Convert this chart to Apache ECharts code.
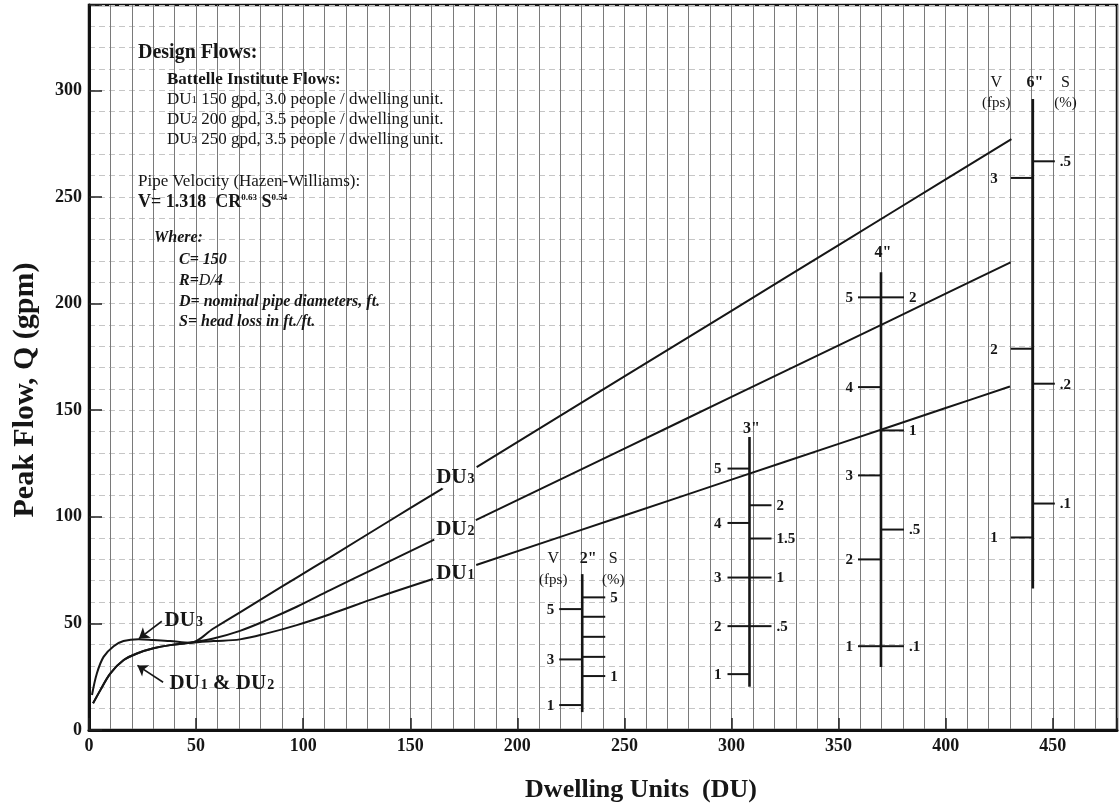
<!DOCTYPE html>
<html>
<head>
<meta charset="utf-8">
<script src="https://cdn.jsdelivr.net/npm/echarts@6/dist/echarts.min.js"></script>
<style>
html,body{margin:0;padding:0;background:#fff;}
#c{width:1120px;height:806px;}
</style>
</head>
<body>
<div id="c"></div>
<script>
// ---------- DATA ----------
const xTickLabels = [0, 50, 100, 150, 200, 250, 300, 350, 400, 450];
const yTickLabels = [0, 50, 100, 150, 200, 250, 300];

// Peak flow curves (DU, gpm); null = gap where the curve label sits
const du1 = [[1.9,12.5],[5.3,18.7],[10,26.6],[16.2,32.8],[22.4,35.9],[30.1,38.3],[37.9,39.8],[47.2,40.9],
  [58.1,41.7],[70.5,42.5],[83,45.3],[97,49.2],[112.6,54.3],[135,62.3],[160.6,70.8],[171,null],
  [180.8,77.4],[250,100.6],[300,117.4],[350,134.2],[400,151.0],[430,161.1]];
const du2 = [[1.9,12.5],[5.3,18.7],[10,26.6],[16.2,32.8],[22.4,35.9],[30.1,38.3],[37.9,39.8],[47.2,40.9],
  [58.1,42.9],[70.5,46.5],[83,51.5],[97,57.8],[112.6,65.6],[135,76.5],[161.2,89.3],[171,null],
  [180.6,98.4],[250,132.0],[300,156.2],[350,180.4],[400,204.6],[430.3,219.3]];
const du3 = [[1.4,16.4],[3.7,26.6],[6.8,34.3],[11.5,39.3],[16.1,41.7],[23.1,42.6],[30.1,42.2],[37.9,41.7],[47.2,40.9],
  [58.1,47.6],[70.5,55.2],[83,62.9],[97,71.5],[112.6,81.0],[140,97.9],[165,113.2],[173,null],
  [181,123.3],[250,165.8],[300,196.6],[350,227.4],[400,258.2],[430.7,277.1]];

// Pipe nomographs: position on DU axis, flow extent, velocity (fps) and slope (%) ticks in gpm
const pipeNames  = ['2"', '3"', '4"', '6"'];
const pipeX      = [230.3, 308.4, 369.8, 440.7];
const pipeTop    = [73.1, 137.4, 214.7, 295.9];
const pipeBottom = [8.4, 20.3, 29.6, 66.4];
const pipeVLabels = [['5','3','1'], ['5','4','3','2','1'], ['5','4','3','2','1'], ['3','2','1']];
const pipeVFlow   = [[56.7,33.1,11.7], [122.6,97.1,71.5,48.7,26.2], [202.9,160.8,119.4,80.0,39.3], [258.9,178.8,90.3]];
const pipeSLabels = [['5','','','','1'], ['2','1.5','1','.5'], ['2','1','.5','.1'], ['.5','.2','.1']];
const pipeSFlow   = [[62.2,53.1,43.7,34.3,25.3], [105.4,89.8,71.5,48.7], [202.9,140.5,94.0,39.3], [266.7,162.4,106.2]];

// Curve label names
const curveLabels = ['DU{s|3}', 'DU{s|2}', 'DU{s|1}'];

// ---------- LAYOUT / STYLE ----------
const FONT = '"Liberation Serif", "Times New Roman", serif';
const INK = '#161616';
const curveLabelAnchors = [[171.1,118.6],[171.1,94.1],[171.1,73.5]];
const nomoLayout = [
  {tick:23, vGap:5, full:true, hdrDy:-15.7, subDy:6, vDx:-29, sDx:31, nameDx:6},
  {tick:22, vGap:6, full:false, nameDy:-8.5},
  {tick:23, vGap:5, full:false, nameDy:-19},
  {tick:22, vGap:13, full:true, hdrDy:-16.6, subDy:4.5, vDx:-36.6, sDx:32.7, nameDx:2}
];

function txt(x, y, text, font, align, extra) {
  return Object.assign({
    type: 'text', z: 100,
    style: {x: x, y: y, text: text, font: font, fill: INK,
      textAlign: align || 'left', align: align || 'left',
      textVerticalAlign: 'middle', verticalAlign: 'middle'}
  }, extra || {});
}
function richTxt(x, y, text, font, rich) {
  return {type:'text', z:100, style:{x:x, y:y, text:text, font:font, fill:INK,
    textAlign:'left', align:'left', textVerticalAlign:'middle', verticalAlign:'middle', rich:rich}};
}

function renderNomo(params, api) {
  const i = params.dataIndex;
  const L = nomoLayout[i];
  const x = pipeX[i];
  const top = api.coord([x, pipeTop[i]]);
  const bot = api.coord([x, pipeBottom[i]]);
  const ch = [];
  ch.push({type:'line', shape:{x1:top[0], y1:top[1], x2:bot[0], y2:bot[1]}, style:{stroke:INK, lineWidth:2.6}});
  const numFont = 'bold 15px ' + FONT;
  pipeVFlow[i].forEach(function(q, k){
    const p = api.coord([x, q]);
    ch.push({type:'line', shape:{x1:p[0]-L.tick, y1:p[1], x2:p[0], y2:p[1]}, style:{stroke:INK, lineWidth:2}});
    const lab = pipeVLabels[i][k];
    if (lab) ch.push(txt(p[0]-L.tick-L.vGap, p[1]+1, lab, numFont, 'right'));
  });
  pipeSFlow[i].forEach(function(q, k){
    const p = api.coord([x, q]);
    ch.push({type:'line', shape:{x1:p[0], y1:p[1], x2:p[0]+L.tick, y2:p[1]}, style:{stroke:INK, lineWidth:2}});
    const lab = pipeSLabels[i][k];
    if (lab) ch.push(txt(p[0]+L.tick+5, p[1]+1, lab, numFont, 'left'));
  });
  const hFont = '16px ' + FONT;
  if (L.full) {
    ch.push(txt(top[0]+L.vDx, top[1]+L.hdrDy, 'V', hFont, 'center'));
    ch.push(txt(top[0]+L.nameDx, top[1]+L.hdrDy, pipeNames[i], 'bold 16px ' + FONT, 'center'));
    ch.push(txt(top[0]+L.sDx, top[1]+L.hdrDy, 'S', hFont, 'center'));
    ch.push(txt(top[0]+L.vDx, top[1]+L.subDy, '(fps)', '15px ' + FONT, 'center'));
    ch.push(txt(top[0]+L.sDx, top[1]+L.subDy, '(%)', '15px ' + FONT, 'center'));
  } else {
    ch.push(txt(top[0]+2, top[1]+L.nameDy, pipeNames[i], 'bold 16px ' + FONT, 'center'));
  }
  return {type:'group', children: ch};
}

const labelRich = {
  s: {fontFamily: FONT, fontWeight:'bold', fontSize: 14, color: INK, verticalAlign:'bottom', padding:[0,0,1,1],
      textBorderWidth:0, opacity:1}
};
const labelBase = {show:true, fontFamily: FONT, fontWeight:'bold', fontSize:21, color: INK, rich: labelRich,
  textBorderWidth:0, textBorderColor:'transparent', textShadowBlur:0, opacity:1,
  formatter: function(p){ return p.name; }};

const chart = echarts.init(document.getElementById('c'), null, {renderer:'canvas', width:1120, height:806});

const option = {
  animation: false,
  backgroundColor: '#ffffff',
  grid: {left: 89, right: 2, top: 5, bottom: 76, show: true, borderColor: '#111', borderWidth: 2.5,
    backgroundColor: 'transparent', containLabel: false},
  xAxis: [
    {type:'value', min:0, max:480, interval:50, position:'bottom',
      axisLine:{show:true, onZero:false, lineStyle:{color:'#111', width:3}},
      axisTick:{show:true, inside:true, length:12, lineStyle:{color:'#222', width:1.5}},
      axisLabel:{show:true, margin:7, hideOverlap:false,
        formatter: function(v){ return xTickLabels.indexOf(v) >= 0 ? String(v) : ''; },
        fontFamily: FONT, fontWeight:'bold', fontSize:18, color: INK},
      splitLine:{show:false}},
    {type:'value', min:0, max:480, interval:10, position:'top',
      axisLine:{show:false}, axisTick:{show:false}, axisLabel:{show:false},
      splitLine:{show:true, lineStyle:{color:'#7a7a7a', width:1}}}
  ],
  yAxis: [
    {type:'value', min:0, max:340, interval:50, position:'left',
      axisLine:{show:true, onZero:false, lineStyle:{color:'#111', width:3}},
      axisTick:{show:true, inside:true, length:13, lineStyle:{color:'#222', width:1.5}},
      axisLabel:{show:true, margin:7, hideOverlap:false,
        formatter: function(v){ return yTickLabels.indexOf(v) >= 0 ? String(v) : ''; },
        fontFamily: FONT, fontWeight:'bold', fontSize:18, color: INK},
      splitLine:{show:false}},
    {type:'value', min:0, max:340, interval:10, position:'right',
      axisLine:{show:false}, axisTick:{show:false}, axisLabel:{show:false},
      splitLine:{show:true, lineStyle:{color:'#c6c6c6', width:1, type:[6,4]}}}
  ],
  series: [
    {name:'DU1', type:'line', data: du1, showSymbol:false, symbol:'none', smooth:0.35, connectNulls:false,
      lineStyle:{color:INK, width:2}, z:4, silent:true},
    {name:'DU2', type:'line', data: du2, showSymbol:false, symbol:'none', smooth:0.35, connectNulls:false,
      lineStyle:{color:INK, width:2}, z:4, silent:true},
    {name:'DU3', type:'line', data: du3, showSymbol:false, symbol:'none', smooth:0.35, connectNulls:false,
      lineStyle:{color:INK, width:2}, z:4, silent:true},
    {name:'pipes', type:'custom', coordinateSystem:'cartesian2d', renderItem: renderNomo, clip:false, silent:true,
      data: pipeX.map(function(x, i){ return [x, pipeTop[i]]; }), z:5},
    {name:'curveLabels', type:'scatter', symbolSize:0, silent:true, z:6,
      itemStyle:{color:INK, opacity:1},
      data: curveLabelAnchors.map(function(p, i){ return {value:p, name:curveLabels[i]}; }),
      label: Object.assign({position:'inside'}, labelBase)},
    {name:'notes', type:'scatter', symbolSize:0, silent:true, z:6,
      itemStyle:{color:INK, opacity:1},
      data: [{value:[35.3,51.5], name:'DU{s|3}'}, {value:[37.6,21.9], name:'DU{s|1} & DU{s|2}'}],
      label: Object.assign({position:'right', distance:0}, labelBase),
      markLine:{silent:true, symbol:['none','arrow'], symbolSize:10, animation:false,
        label:{show:false}, lineStyle:{color:INK, width:1.6, type:'solid', opacity:1},
        itemStyle:{color:INK},
        emphasis:{disabled:true},
        data:[
          [{coord:[34.0,51.0]}, {coord:[23.3,42.9]}],
          [{coord:[34.6,22.4]}, {coord:[22.6,30.3]}]
        ]}}
  ],
  graphic: [
    txt(138, 53, 'Design Flows:', 'bold 20px ' + FONT, 'left'),
    txt(167, 80, 'Battelle Institute Flows:', 'bold 17px ' + FONT, 'left'),
    richTxt(167, 100, 'DU{s|1} 150 gpd, 3.0 people / dwelling unit.', '17px ' + FONT, {s:{font:'11px ' + FONT, fill:INK, verticalAlign:'middle'}}),
    richTxt(167, 120, 'DU{s|2} 200 gpd, 3.5 people / dwelling unit.', '17px ' + FONT, {s:{font:'11px ' + FONT, fill:INK, verticalAlign:'middle'}}),
    richTxt(167, 140, 'DU{s|3} 250 gpd, 3.5 people / dwelling unit.', '17px ' + FONT, {s:{font:'11px ' + FONT, fill:INK, verticalAlign:'middle'}}),
    txt(138, 182, 'Pipe Velocity (Hazen-Williams):', '17px ' + FONT, 'left'),
    richTxt(138, 202, 'V= 1.318  CR{p|0.63} S{p|0.54}', 'bold 18px ' + FONT, {p:{font:'bold 9px ' + FONT, fill:INK, verticalAlign:'top'}}),
    txt(154, 238, 'Where:', 'italic bold 16px ' + FONT, 'left'),
    txt(179, 260, 'C= 150', 'italic bold 16px ' + FONT, 'left'),
    richTxt(179, 281, 'R={u|D}{m|/}{d|4}', 'italic bold 16px ' + FONT,
      {u:{font:'italic 16px ' + FONT, fill:INK, verticalAlign:'top'},
       m:{font:'italic 16px ' + FONT, fill:INK},
       d:{font:'italic bold 16px ' + FONT, fill:INK, verticalAlign:'bottom'}}),
    txt(179, 302, 'D= nominal pipe diameters, ft.', 'italic bold 16px ' + FONT, 'left'),
    txt(179, 322, 'S= head loss in ft./ft.', 'italic bold 16px ' + FONT, 'left'),
    txt(641, 790, 'Dwelling Units  (DU)', 'bold 26px ' + FONT, 'center'),
    txt(25, 390, 'Peak Flow, Q (gpm)', 'bold 30px ' + FONT, 'center', {rotation: Math.PI/2, x:0, y:0, originX:25, originY:390})
  ]
};
chart.setOption(option);
</script>
</body>
</html>
